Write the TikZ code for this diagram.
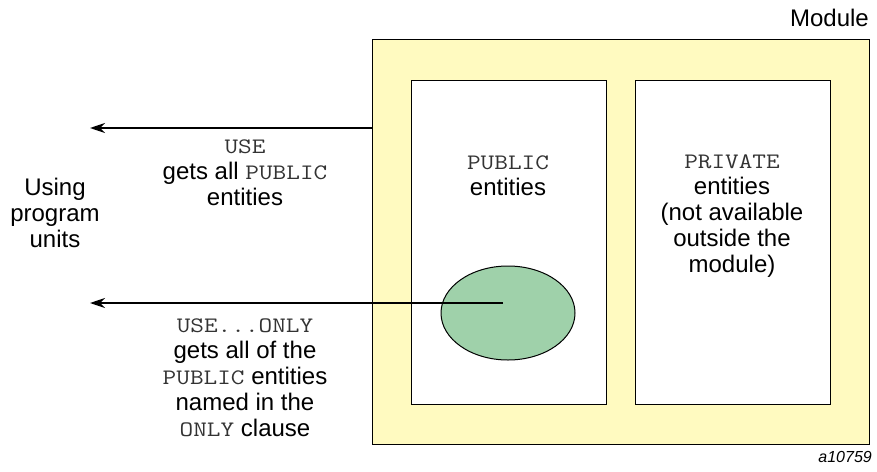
\documentclass[tikz,border=0pt]{standalone}
\usepackage{fontspec}
\setmainfont{Liberation Sans}
\setmonofont{Latin Modern Mono}[FakeStretch=1.2,Scale=0.92]
\usetikzlibrary{arrows.meta,shapes.geometric}
\definecolor{modyellow}{HTML}{FFFAC0}
\definecolor{ovgreen}{HTML}{9FD1AA}
\definecolor{ttgray}{HTML}{333333}
\newcommand{\code}[1]{{\color{ttgray}\texttt{#1}}}
\tikzset{
  box/.style={draw=black,line width=1.3pt},
  lbl/.style={inner sep=0pt,align=center,font=\fontsize{24}{26}\selectfont},
  arr/.style={line width=2pt,-{Stealth[length=15pt,width=10pt]}},
}
\begin{document}
\begin{tikzpicture}[x=1pt,y=-1pt]
\useasboundingbox (0,0) rectangle (877,471);
\node[box,fill=modyellow,minimum width=497pt,minimum height=405pt,inner sep=0pt,anchor=north west] (module) at (372,39) {};
\node[box,fill=white,minimum width=195pt,minimum height=324pt,inner sep=0pt,anchor=north west] (pub) at (411,80) {};
\node[box,fill=white,minimum width=195pt,minimum height=324pt,inner sep=0pt,anchor=north west] (priv) at (635,80) {};
\node[draw=black,line width=1pt,fill=ovgreen,ellipse,minimum width=134pt,minimum height=94pt,inner sep=0pt] (ov) at (508,313) {};
\coordinate (ovc) at (503,303);
\coordinate (t1) at (90,128);
\coordinate (t2) at (90,303);
\draw[arr] (module.west |- t1) -- (t1);
\draw[arr] (ovc) -- (t2);
\node[lbl,anchor=north east] (modlbl) at (869,9) {Module};
\node[lbl] (publbl) at (508,176) {\code{PUBLIC}\\entities};
\node[lbl] (privlbl) at (732,216) {\code{PRIVATE}\\entities\\(not available\\outside the\\module)};
\node[lbl] (uselbl) at (245,173) {\code{USE}\\gets all \code{PUBLIC}\\entities};
\node[lbl] (using) at (55,213) {Using\\program\\units};
\node[lbl] (onlylbl) at (245,378) {\code{USE...ONLY}\\gets all of the\\\code{PUBLIC} entities\\named in the\\\code{ONLY} clause};
\node[inner sep=0pt,anchor=east,font=\fontsize{16}{18}\selectfont\itshape] (fig) at (872,457) {a10759};
\end{tikzpicture}
\end{document}
